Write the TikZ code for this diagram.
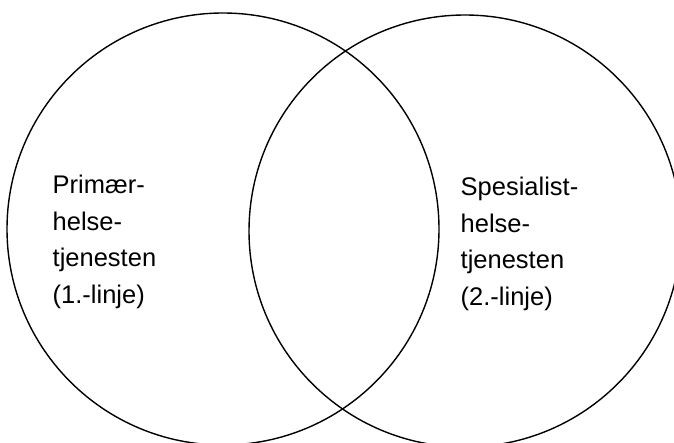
\documentclass[tikz,border=0pt]{standalone}
\usepackage{fontspec}
\setmainfont{Liberation Sans}
\newcommand{\labelfont}{\fontsize{25.5}{36.6}\selectfont}

\begin{document}
\begin{tikzpicture}[x=1pt,y=1pt,yscale=-1,
    ring/.style={draw, line width=1.4pt},
    label/.style={anchor=north west, inner sep=0pt, align=left, font=\labelfont}]
    \useasboundingbox (0,0) rectangle (674,443);
    \clip (0,0) rectangle (674,443);

    %Circle: primary care
    \draw [ring] (223,229) circle [radius=216];
    \coordinate (primary) at (223,229);
    %Circle: specialist care
    \draw [ring] (465,231) circle [radius=216];
    \coordinate (specialist) at (465,231);

    % Text Node
    \node [label] (primarytext) at (52.5,175) {Primær-\\helse-\\tjenesten\\(1.-linje)};
    % Text Node
    \node [label] (specialisttext) at (460.5,177) {Spesialist-\\helse-\\tjenesten\\(2.-linje)};
\end{tikzpicture}
\end{document}
